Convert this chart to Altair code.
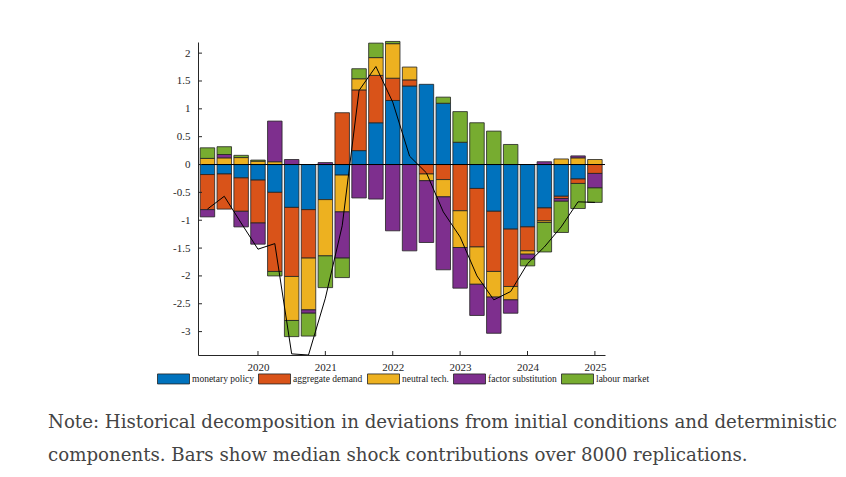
import altair as alt
import pandas as pd

# quarter positions (year + fraction), 2019Q2 .. 2025Q1
quarters = [2019.25, 2019.5, 2019.75, 2020.0, 2020.25, 2020.5, 2020.75, 2021.0,
            2021.25, 2021.5, 2021.75, 2022.0, 2022.25, 2022.5, 2022.75, 2023.0,
            2023.25, 2023.5, 2023.75, 2024.0, 2024.25, 2024.5, 2024.75, 2025.0]

shock_names = ["monetary policy", "aggregate demand", "neutral tech.",
               "factor substitution", "labour market"]
shock_colors = ["#0072BD", "#D95319", "#EDB120", "#7E2F8E", "#77AC30"]

monetary = [-0.18, -0.17, -0.24, -0.28, -0.50, -0.77, -0.81, -0.63, -0.19, 0.25, 0.75, 1.15,
            1.41, 1.44, 1.10, 0.40, -0.43, -0.84, -1.16, -1.12, -0.78, -0.57, -0.26, 0.0]
demand = [-0.63, -0.63, -0.60, -0.77, -1.42, -1.24, -0.87, 0.0, 0.93, 1.09, 0.85, 0.40,
          0.11, -0.17, -0.27, -0.83, -1.05, -1.08, -1.03, -0.43, -0.23, -0.04, -0.08, -0.16]
neutral = [0.11, 0.12, 0.125, 0.06, 0.05, -0.79, -0.93, -1.01, -0.66, 0.20, 0.32, 0.62,
           0.23, -0.12, -0.31, -0.66, -0.67, -0.46, -0.24, -0.06, -0.03, 0.10, 0.12, 0.09]
factor = [-0.13, 0.06, -0.28, -0.38, 0.73, 0.09, -0.06, 0.035, -0.83, -0.60, -0.62, -1.19,
          -1.55, -1.11, -1.31, -0.73, -0.56, -0.65, -0.24, -0.09, 0.05, -0.05, 0.035, -0.26]
labour = [0.19, 0.14, 0.04, 0.02, -0.08, -0.29, -0.41, -0.57, -0.35, 0.18, 0.26, 0.04,
          0.0, 0.0, 0.11, 0.55, 0.75, 0.60, 0.36, -0.12, -0.53, -0.56, -0.45, -0.26]
total = [-0.80, -0.57, -1.05, -1.52, -1.42, -3.40, -3.42, -2.40, -1.10, 1.33, 1.76, 1.12,
         0.15, -0.15, -0.85, -1.30, -2.00, -2.43, -2.28, -1.78, -1.48, -1.12, -0.67, -0.68]

year_ticks = [2020, 2021, 2022, 2023, 2024, 2025]
y_ticks = [-3, -2.5, -2, -1.5, -1, -0.5, 0, 0.5, 1, 1.5, 2]

note_lines = [
    "Note: Historical decomposition in deviations from initial conditions and deterministic",
    "components. Bars show median shock contributions over 8000 replications.",
]

series = [monetary, demand, neutral, factor, labour]
rows = []
for i, q in enumerate(quarters):
    for k, vals in enumerate(series):
        if vals[i] != 0:
            rows.append({"q": q, "shock": shock_names[k], "value": vals[i], "k": k})
bars_df = pd.DataFrame(rows)
line_df = pd.DataFrame({"q": quarters, "total": total})

W, H = 407, 313
FONT = "Liberation Serif"
NOTE_FONT = "DejaVu Serif"
AX = "#262626"

xscale = alt.Scale(domain=[2019.11, 2025.15], nice=False, zero=False, padding=0)
yscale = alt.Scale(domain=[-3.42, 2.2], nice=False, zero=False, padding=0)

x_axis = alt.Axis(values=year_ticks, format="d", ticks=False, tickSize=0, grid=False,
                  title=None, labelFont=FONT, labelFontSize=11, labelColor=AX,
                  labelPadding=6, labelOverlap=False, domainColor=AX, domainWidth=1)
y_axis = alt.Axis(values=y_ticks, ticks=False, tickSize=0, grid=False, title=None,
                  labelExpr="datum.value < 0 ? '-' + format(-datum.value, '~g') : format(datum.value, '~g')",
                  labelFont=FONT, labelFontSize=11, labelColor=AX, labelPadding=8,
                  labelOverlap=False, labelFlush=False, domainColor=AX, domainWidth=1)

legend = alt.Legend(
    title=None, orient="none", legendX=-41, legendY=320, direction="horizontal",
    symbolType="M-1,-0.3125H1V0.3125H-1Z", symbolSize=1024,
    symbolStrokeColor="#222222", symbolStrokeWidth=0.8, symbolOpacity=1,
    labelFont=FONT, labelFontSize=9.5, labelColor="#222222", labelOffset=2,
    columnPadding=2, padding=0, columns=5,
)

bars = alt.Chart(bars_df).mark_bar(size=14.5, stroke="#222222", strokeWidth=0.8, opacity=1).encode(
    x=alt.X("q:Q", scale=xscale, axis=x_axis),
    y=alt.Y("value:Q", stack="zero", scale=yscale, axis=y_axis),
    color=alt.Color("shock:N", scale=alt.Scale(domain=shock_names, range=shock_colors), legend=legend),
    order=alt.Order("k:Q", sort="ascending"),
)

zero = alt.Chart(pd.DataFrame({"z": [0]})).mark_rule(color="black", strokeWidth=1).encode(
    y=alt.Y("z:Q", scale=yscale, axis=y_axis)
)

line = alt.Chart(line_df).mark_line(color="black", strokeWidth=1, clip=True).encode(
    x=alt.X("q:Q", scale=xscale, axis=x_axis),
    y=alt.Y("total:Q", scale=yscale, axis=y_axis),
)

ytick = alt.Chart(pd.DataFrame({"v": y_ticks})).mark_rule(color=AX, strokeWidth=1).encode(
    y=alt.Y("v:Q", scale=yscale, axis=y_axis), x=alt.value(0), x2=alt.value(4)
)
xtick = alt.Chart(pd.DataFrame({"yr": year_ticks})).mark_rule(color=AX, strokeWidth=1).encode(
    x=alt.X("yr:Q", scale=xscale, axis=x_axis), y=alt.value(H), y2=alt.value(H - 4)
)

note = alt.Chart(pd.DataFrame({"a": [0]})).mark_text(
    align="left", baseline="alphabetic", font=NOTE_FONT, fontSize=18.2, lineHeight=33, color="#444444"
).encode(x=alt.value(-150), y=alt.value(386), text=alt.value(note_lines))

chart = alt.layer(bars, zero, line, ytick, xtick, note).properties(
    width=W, height=H,
    autosize=alt.AutoSizeParams(type="none"),
    padding={"left": 190, "top": 34, "right": 233, "bottom": 114},
).configure(font=FONT).configure_view(stroke=None)

chart.save("out.html", embed_options={"renderer": "svg", "actions": False})
